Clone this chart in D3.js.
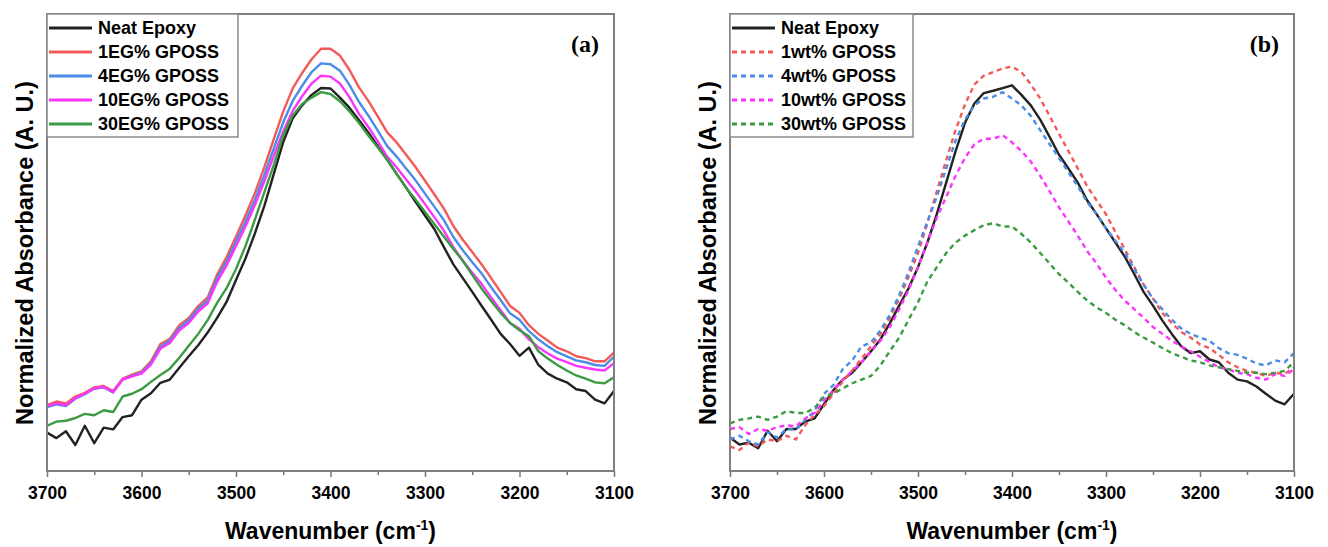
<!DOCTYPE html>
<html>
<head>
<meta charset="utf-8">
<script src="https://cdn.jsdelivr.net/npm/d3@7/dist/d3.min.js"></script>
<style>
html,body{margin:0;padding:0;background:#fff;}
svg{display:block;}
text{font-family:"Liberation Sans",Arial,Helvetica,sans-serif;font-weight:bold;fill:#000;}
</style>
</head>
<body>
<svg id="chart" width="1328" height="547"></svg>
<script>
// ---------- DATA ----------
const wavenumbers = [3700,3690,3680,3670,3660,3650,3640,3630,3620,3610,
  3600,3590,3580,3570,3560,3550,3540,3530,3520,3510,
  3500,3490,3480,3470,3460,3450,3440,3430,3420,3410,
  3400,3390,3380,3370,3360,3350,3340,3330,3320,3310,
  3300,3290,3280,3270,3260,3250,3240,3230,3220,3210,
  3200,3190,3180,3170,3160,3150,3140,3130,3120,3110,3100];

const xTicks = [3700,3600,3500,3400,3300,3200,3100];
const xMinorTicks = [3650,3550,3450,3350,3250,3150];

// Panel (a)
const neatA = [8.4,7.2,8.7,5.7,9.9,6.1,9.5,9.1,11.8,12.2,
  15.6,17.0,19.3,20.0,22.6,25.1,27.5,30.3,33.5,37.0,
  41.8,46.5,52.0,58.0,65.0,72.0,77.2,80.0,82.3,83.8,
  83.7,81.7,79.5,76.8,74.1,71.1,68.1,65.0,62.0,58.9,
  55.9,52.9,49.0,45.2,42.2,39.2,36.1,33.1,30.0,27.8,
  25.2,27.0,23.2,21.3,20.2,19.4,17.9,17.5,15.6,14.8,17.5];
const eg1 = [14.4,15.2,14.8,16.3,17.1,18.3,18.6,17.5,20.2,21.1,
  21.8,24.0,27.8,28.9,31.9,33.5,36.1,38.0,43.0,46.8,
  51.3,55.9,60.8,66.5,72.6,78.7,83.7,87.1,90.1,92.4,
  92.4,90.9,87.8,84.0,81.0,77.6,74.1,71.9,69.2,66.5,
  63.5,60.5,57.4,53.6,50.6,47.9,45.2,42.2,39.2,36.1,
  34.6,31.9,30.0,28.5,27.0,26.2,25.1,24.7,24.0,24.0,25.9];
const eg4 = [14.0,14.6,14.2,15.8,16.8,18.0,18.3,17.2,20.0,20.8,
  21.5,23.6,27.2,28.5,31.3,33.0,35.5,37.3,42.2,45.8,
  50.2,54.6,59.3,64.8,70.6,76.3,81.0,84.3,87.3,89.2,
  89.0,87.6,84.5,80.8,77.8,74.5,71.1,68.8,66.2,63.6,
  60.7,57.8,54.9,51.2,48.3,45.7,43.2,40.2,37.4,34.5,
  33.1,30.6,28.8,27.3,26.0,25.1,24.2,23.8,23.2,23.0,25.0];
const eg10 = [14.2,14.8,14.4,16.0,16.9,18.1,18.4,17.3,20.0,20.7,
  21.3,23.3,26.8,28.0,30.8,32.4,34.9,36.7,41.4,45.0,
  49.2,53.5,58.2,63.4,69.0,74.3,78.8,82.0,84.8,86.5,
  86.3,84.8,81.8,78.2,75.3,72.1,68.8,66.4,63.8,61.2,
  58.4,55.5,52.6,49.0,46.0,43.4,40.9,38.0,35.2,32.4,
  31.1,28.8,27.1,25.7,24.6,23.8,23.0,22.6,22.2,22.0,23.6];
const eg30 = [9.9,10.8,11.0,11.6,12.5,12.2,13.3,12.9,16.3,16.9,
  17.9,19.5,21.0,22.4,24.8,27.4,30.0,33.0,36.8,40.0,
  44.2,49.2,55.0,61.0,67.0,73.5,77.8,80.3,81.7,82.9,
  82.5,80.9,78.7,76.2,73.4,70.8,68.1,65.0,62.0,59.4,
  56.7,54.0,51.3,48.6,46.0,42.9,39.9,37.2,34.6,32.4,
  30.8,29.5,26.2,24.6,23.2,22.0,20.9,20.2,19.4,19.2,20.5];

// Panel (b)
const neatB = [7.3,5.8,6.2,5.0,8.8,6.5,9.2,9.2,10.8,11.5,
  14.6,17.7,20.0,21.5,23.8,26.2,28.8,32.3,36.2,40.0,
  44.6,50.0,56.2,63.1,70.0,76.2,80.4,82.7,83.2,83.8,
  84.4,82.3,80.0,76.9,73.1,69.2,66.2,63.1,59.2,56.2,
  53.1,50.0,46.9,43.1,39.2,36.2,32.9,30.0,27.3,25.8,
  26.2,24.4,23.8,21.5,20.0,19.6,18.5,16.9,15.4,14.6,16.9];
const wt1 = [5.4,4.6,6.2,5.4,6.9,6.5,7.7,6.9,10.0,12.3,
  14.2,16.9,19.6,22.0,24.6,27.3,30.0,33.5,37.7,42.5,
  47.7,54.2,61.2,68.0,74.6,80.2,84.6,86.5,87.3,88.1,
  88.5,87.3,84.6,81.5,77.7,73.8,70.0,66.2,62.3,59.2,
  56.2,52.3,48.5,44.6,40.8,37.7,34.6,32.3,30.4,29.2,
  27.7,26.9,25.4,23.8,22.7,21.9,21.5,20.8,21.5,21.2,22.7];
const wt4 = [6.9,7.7,6.5,5.8,8.5,7.3,9.2,9.0,11.2,13.1,
  16.9,18.8,22.3,24.2,27.3,28.1,30.8,34.2,38.5,43.5,
  49.2,54.6,60.0,66.2,72.3,76.9,80.0,81.5,81.9,82.9,
  81.5,80.0,77.7,74.6,71.5,68.5,65.4,62.3,58.8,56.2,
  53.1,50.4,47.7,44.2,40.8,37.7,35.4,33.1,31.2,30.0,
  29.2,28.5,26.9,25.8,25.4,24.6,23.5,23.1,24.2,23.8,25.8];
const wt10 = [9.2,9.6,8.1,9.2,8.8,9.6,10.0,9.8,11.5,12.7,
  15.4,17.7,20.0,21.9,23.8,26.2,28.5,31.5,35.4,39.6,
  44.6,50.0,55.4,60.0,64.6,68.5,71.5,72.7,72.7,73.5,
  71.9,70.0,67.7,64.6,61.2,57.7,54.6,51.5,48.1,45.4,
  42.3,39.6,37.3,35.4,33.5,31.5,30.0,28.5,27.3,26.2,
  25.0,23.8,22.7,22.3,21.5,21.2,20.4,20.0,21.2,20.8,22.3];
const wt30 = [10.4,11.2,11.5,11.9,11.2,11.9,13.1,12.7,12.7,13.8,
  16.2,16.9,18.1,19.2,20.0,20.8,23.1,26.2,29.2,33.1,
  36.9,41.5,44.6,47.7,50.0,51.5,52.7,53.8,54.2,53.5,
  53.5,51.9,50.0,47.7,45.4,43.1,41.2,39.2,37.3,35.8,
  34.6,33.1,31.9,30.4,29.2,28.1,26.9,25.8,25.0,24.2,
  23.8,23.1,22.7,22.3,21.9,21.5,21.5,21.2,21.5,21.9,23.8];

const namesA = ["Neat Epoxy","1EG% GPOSS","4EG% GPOSS","10EG% GPOSS","30EG% GPOSS"];
const namesB = ["Neat Epoxy","1wt% GPOSS","4wt% GPOSS","10wt% GPOSS","30wt% GPOSS"];
const seriesColors = ["#222222","#f25a58","#4a8ce6","#fb35fb","#3b9b42"];
const yTitle = "Normalized Absorbance (A. U.)";
const xTitle = "Wavenumber (cm";
const panelLabels = ["(a)","(b)"];

// ---------- DRAW ----------
const svg = d3.select("#chart");
const panels = [
  {left:47, right:614, series:[neatA,eg1,eg4,eg10,eg30], names:namesA, dashed:false, legendW:191, label:panelLabels[0]},
  {left:730, right:1294, series:[neatB,wt1,wt4,wt10,wt30], names:namesB, dashed:true, legendW:183, label:panelLabels[1]}
];
const plotTop = 14, plotBottom = 471;

panels.forEach(p => {
  const g = svg.append("g");
  const x = d3.scaleLinear().domain([3700,3100]).range([p.left,p.right]);
  const y = d3.scaleLinear().domain([0,100]).range([plotBottom,plotTop]);

  // minor ticks
  const minor = g.append("g").attr("transform",`translate(0,${plotBottom})`)
    .call(d3.axisBottom(x).tickValues(xMinorTicks).tickSize(4).tickFormat(""));
  minor.select(".domain").remove();
  minor.selectAll("line").attr("stroke","#777").attr("stroke-width",1.5);

  const ax = g.append("g").attr("transform",`translate(0,${plotBottom})`)
    .call(d3.axisBottom(x).tickValues(xTicks).tickSize(6).tickPadding(10).tickFormat(d3.format("d")));
  ax.select(".domain").remove();
  ax.selectAll("line").attr("stroke","#777").attr("stroke-width",1.5);
  ax.selectAll("text").style("font-size","17.5px").style("font-weight","bold")
    .style("font-family",'"Liberation Sans",Arial,sans-serif').attr("fill","#000");

  // lines
  const line = d3.line().x((d,i)=>x(wavenumbers[i])).y(d=>y(d)).curve(d3.curveLinear);
  p.series.forEach((s,i) => {
    g.append("path").attr("d",line(s)).attr("fill","none")
      .attr("stroke",seriesColors[i]).attr("stroke-width",2.4)
      .attr("stroke-linejoin","round")
      .attr("stroke-dasharray",(p.dashed && i>0)?"5,4":null);
  });

  // frame
  g.append("rect").attr("x",p.left).attr("y",plotTop).attr("width",p.right-p.left).attr("height",plotBottom-plotTop)
    .attr("fill","none").attr("stroke","#808080").attr("stroke-width",2);

  // legend
  const lg = g.append("g");
  lg.append("rect").attr("x",p.left).attr("y",plotTop).attr("width",p.legendW).attr("height",123)
    .attr("fill","#fff").attr("stroke","#8a8a8a").attr("stroke-width",1.5);
  p.names.forEach((n,i) => {
    const yy = 28 + i*24;
    lg.append("line").attr("x1",p.left+2).attr("x2",p.left+45).attr("y1",yy).attr("y2",yy)
      .attr("stroke",seriesColors[i]).attr("stroke-width",2.8)
      .attr("stroke-dasharray",(p.dashed && i>0)?"5,4":null);
    lg.append("text").attr("x",p.left+51).attr("y",yy).attr("dy","0.36em")
      .style("font-size","18px").text(n);
  });

  // panel label
  g.append("text").attr("x",p.right-15).attr("y",52).attr("text-anchor","end")
    .style("font-family",'"Liberation Serif","Times New Roman",serif').style("font-size","24px")
    .text(p.label);

  // y title
  g.append("text").attr("transform",`translate(${p.left-14},253) rotate(-90)`)
    .attr("text-anchor","middle").style("font-size","23.5px").text(yTitle);

  // x title
  const xt = g.append("text").attr("x",(p.left+p.right)/2).attr("y",539).attr("text-anchor","middle")
    .style("font-size","23px");
  xt.append("tspan").text(xTitle);
  xt.append("tspan").attr("dy",-9).style("font-size","14px").text("-1");
  xt.append("tspan").attr("dy",9).text(")");
});
</script>
</body>
</html>
